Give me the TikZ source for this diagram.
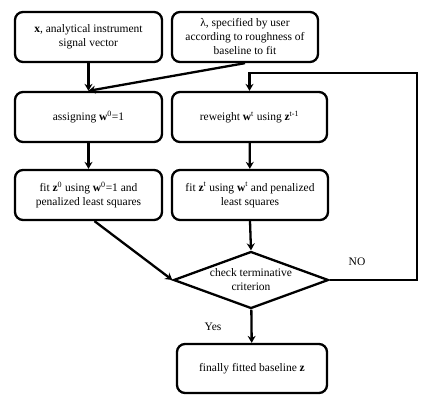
\documentclass[tikz,border=0pt]{standalone}
\usepackage{fontspec}
\setmainfont{Liberation Serif}
\usetikzlibrary{shapes.geometric,arrows.meta}
\begin{document}
\begin{tikzpicture}[x=1pt, y=1pt,
	every node/.style = {font=\fontsize{11.5}{14}\selectfont},
	stepbox/.style = {draw, line width=2.3pt, rounded corners=8pt, align=center, minimum height=50pt, inner sep=2pt},
	testbox/.style = {draw, line width=2.3pt, diamond, aspect=2.72, inner sep=0pt, align=center, minimum width=155pt, minimum height=57pt},
	flow/.style = {line width=2.3pt, -{Stealth[length=7pt,width=8pt]}}]
\useasboundingbox (0,0) rectangle (425,-402);
% first row
\node[stepbox, minimum width=147pt] (signal) at (88.5,-37) {\textbf{x}, analytical instrument\\signal vector};
\node[stepbox, minimum width=146pt] (lambda) at (245,-37) {λ, specified by user\\according to roughness of\\baseline to fit};
% second row
\node[stepbox, minimum width=147pt] (assign) at (88.5,-117) {assigning \textbf{w}\textsuperscript{0}=1};
\node[stepbox, minimum width=155pt] (reweight) at (249.5,-117) {reweight \textbf{w}\textsuperscript{t} using \textbf{z}\textsuperscript{t-1}};
% third row
\node[stepbox, minimum width=147pt] (fitzero) at (88.5,-195) {fit \textbf{z}\textsuperscript{0} using \textbf{w}\textsuperscript{0}=1 and\\penalized least squares};
\node[stepbox, minimum width=156pt] (fitt) at (250,-195) {fit \textbf{z}\textsuperscript{t} using \textbf{w}\textsuperscript{t} and penalized\\least squares};
% check and result
\node[testbox] (check) at (251,-280) {check terminative\\criterion};
\node[stepbox, minimum width=150pt, minimum height=49pt] (final) at (252,-368.5) {finally fitted baseline \textbf{z}};
\coordinate (loop) at (417,-73);
\draw[flow] (signal) -- (assign);
\draw[flow] (lambda.south) -- (assign.north);
\draw[flow] (assign) -- (fitzero);
\draw[flow] (reweight) -- (fitt);
\draw[flow] ([xshift=6pt]fitzero.south) -- (check.west);
\draw[flow] (fitt.south) -- (check.north);
\draw[flow] (check.east) -| (loop) -| (reweight.north);
\draw[flow] (check) -- (final);
\node (no) at (357,-262) {NO};
\node (yes) at (213,-327) {Yes};
\end{tikzpicture}
\end{document}
